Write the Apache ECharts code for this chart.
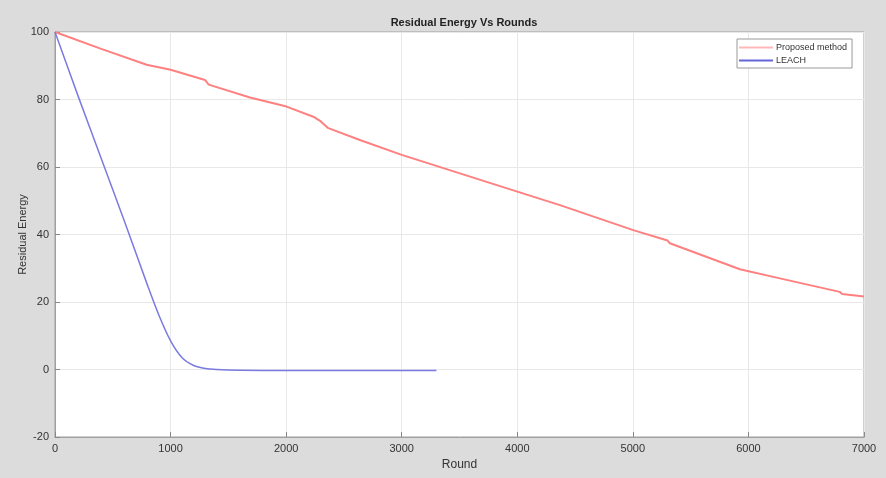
<!DOCTYPE html>
<html>
<head>
<meta charset="utf-8">
<script src="https://cdn.jsdelivr.net/npm/echarts@6/dist/echarts.min.js"></script>
<style>
  html, body { margin: 0; padding: 0; background: #dcdcdc; }
  #chart { width: 886px; height: 478px; }
</style>
</head>
<body>
<div id="chart"></div>
<script>
// Residual energy per round for the two protocols
const proposedRounds = [0, 400, 793, 1000, 1298, 1330, 1687, 2004, 2235, 2300, 2365, 2638, 3000, 4000, 4369, 5003, 5300, 5320, 5926, 6272, 6790, 6810, 7000];
const proposedEnergy = [100, 95, 90.3, 88.8, 85.8, 84.4, 80.6, 77.9, 74.9, 73.5, 71.5, 68.0, 63.6, 52.7, 48.7, 41.3, 38.2, 37.4, 29.7, 27.0, 23.0, 22.4, 21.6];

const leachRounds = [0, 200, 400, 600, 800, 900, 1000, 1100, 1200, 1300, 1400, 1600, 2000, 3300];
const leachEnergy = [100, 81, 62.5, 44, 25, 16, 8.5, 3.5, 1.2, 0.3, 0, -0.2, -0.3, -0.3];

const xTicks = [0, 1000, 2000, 3000, 4000, 5000, 6000, 7000];
const yTicks = [-20, 0, 20, 40, 60, 80, 100];

const font = 'Liberation Sans, Arial, sans-serif';
const pair = (xs, ys) => xs.map((x, i) => [x, ys[i]]);

const chart = echarts.init(document.getElementById('chart'), null, { renderer: 'canvas' });
chart.setOption({
  backgroundColor: '#dcdcdc',
  animation: false,
  title: {
    text: 'Residual Energy Vs Rounds',
    left: 459, textAlign: 'center', top: 12,
    textStyle: { fontFamily: font, fontSize: 11, fontWeight: 'bold', color: '#222' }
  },
  legend: {
    orient: 'vertical',
    left: 737, top: 39,
    icon: 'rect',
    itemWidth: 34, itemHeight: 2, itemGap: 4,
    padding: [4, 5, 3, 2],
    backgroundColor: '#fff',
    borderColor: '#999', borderWidth: 1,
    textStyle: { fontFamily: font, fontSize: 9, color: '#333', padding: [0, 0, 0, -2] },
    data: ['Proposed method', 'LEACH']
  },
  grid: {
    left: 55, right: 22, top: 32, bottom: 41,
    show: true, backgroundColor: '#fff', borderColor: '#a0a0a0', borderWidth: 1
  },
  xAxis: {
    type: 'value', min: xTicks[0], max: xTicks[xTicks.length - 1], interval: 1000,
    name: 'Round', nameLocation: 'middle', nameGap: 22,
    nameTextStyle: { fontFamily: font, fontSize: 12, color: '#333' },
    axisLine: { show: true, onZero: false, lineStyle: { color: '#a0a0a0' } },
    axisTick: { show: true, inside: true, length: 5, lineStyle: { color: '#888' } },
    axisLabel: { fontFamily: font, fontSize: 11, color: '#333', margin: 6, formatter: v => String(v) },
    splitLine: { show: true, lineStyle: { color: '#e8e8e8', width: 1 } }
  },
  yAxis: {
    type: 'value', min: yTicks[0], max: yTicks[yTicks.length - 1], interval: 20,
    name: 'Residual Energy', nameLocation: 'middle', nameGap: 27, nameMoveOverlap: false,
    nameTextStyle: { fontFamily: font, fontSize: 11, color: '#333' },
    axisLine: { show: true, onZero: false, lineStyle: { color: '#a0a0a0' } },
    axisTick: { show: true, inside: true, length: 5, lineStyle: { color: '#888' } },
    axisLabel: { fontFamily: font, fontSize: 11, color: '#333', margin: 6, formatter: v => String(v) },
    splitLine: { show: true, lineStyle: { color: '#e8e8e8', width: 1 } }
  },
  series: [
    {
      name: 'Proposed method', type: 'line', symbol: 'none',
      data: pair(proposedRounds, proposedEnergy),
      lineStyle: { color: '#ff8080', width: 2 },
      itemStyle: { color: '#ffb8b8' }
    },
    {
      name: 'LEACH', type: 'line', symbol: 'none', smooth: 0.3,
      data: pair(leachRounds, leachEnergy),
      lineStyle: { color: '#7a7ae0', width: 1.5 },
      itemStyle: { color: '#6666d8' }
    }
  ]
});
</script>
</body>
</html>
